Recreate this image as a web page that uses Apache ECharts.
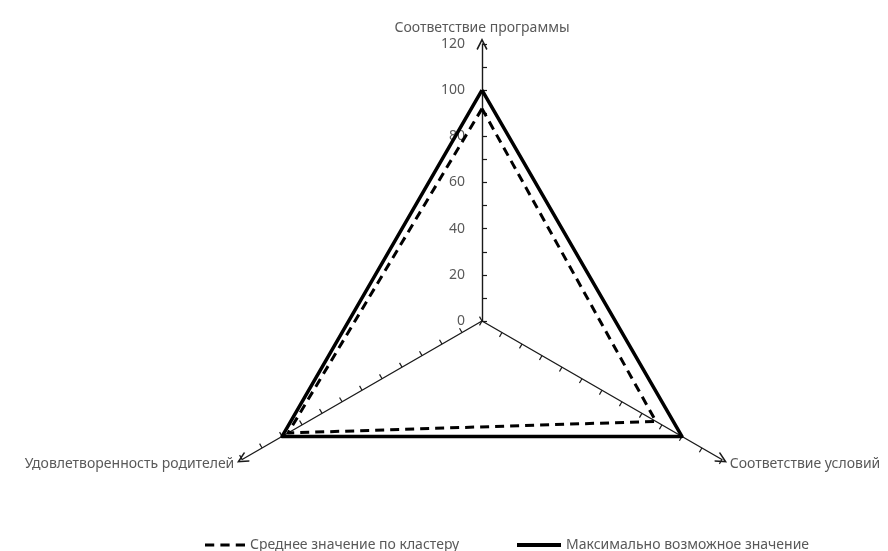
<!DOCTYPE html>
<html>
<head>
<meta charset="utf-8">
<script src="https://cdn.jsdelivr.net/npm/echarts@6/dist/echarts.min.js"></script>
<style>
html, body { margin: 0; padding: 0; background: #fff; }
#main { width: 888px; height: 551px; }
</style>
</head>
<body>
<div id="main"></div>
<script>
// данные
var indicators = ['Соответствие программы', 'Удовлетворенность родителей', 'Соответствие условий'];
var seriesNames = ['Среднее значение по кластеру', 'Максимально возможное значение'];
var avgValues = [92, 97, 87];
var maxValues = [100, 100, 100];
var scaleMax = 120;
var labelStep = 20;

var textColor = '#595959';
var fontName = 'Noto Sans';
var arrow = 'path://M0,10 L5,0 L10,10 L8.8,10.8 L5,3.2 L1.2,10.8 Z';

var chart = echarts.init(document.getElementById('main'));

var option = {
    backgroundColor: '#fff',
    animation: false,
    textStyle: { fontFamily: fontName },
    grid: { left: 482, width: 1, top: 321 - 277, height: 277 },
    xAxis: { type: 'value', show: false },
    yAxis: {
        type: 'value',
        min: 0,
        max: scaleMax,
        interval: labelStep,
        axisLine: { show: false },
        axisTick: { show: false },
        splitLine: { show: false },
        axisLabel: { color: textColor, fontSize: 14, margin: 17, fontFamily: fontName }
    },
    radar: {
        center: [482, 321],
        radius: 277,
        startAngle: 90,
        splitNumber: 12,
        shape: 'polygon',
        indicator: indicators.map(function (n) {
            return { name: n, min: 0, max: scaleMax };
        }),
        axisName: { color: textColor, fontSize: 14, fontFamily: fontName },
        nameGap: 9,
        axisLine: {
            show: true,
            symbol: ['none', arrow],
            symbolSize: [13, 12],
            lineStyle: { color: '#1a1a1a', width: 1.4 }
        },
        // отрицательная длина — засечки с другой стороны оси
        axisTick: { show: true, length: -5, lineStyle: { color: '#1a1a1a', width: 1.2 } },
        axisLabel: { show: false },
        splitLine: { show: false },
        splitArea: { show: false }
    },
    legend: [{
        left: 200,
        top: 533,
        itemWidth: 40,
        itemHeight: 4,
        itemGap: 0,
        textStyle: { color: textColor, fontSize: 14, fontFamily: fontName },
        data: [{ name: seriesNames[0], icon: 'path://M0,0h9v3h-9z M15,0h9v3h-9z M30,0h9v3h-9z' }]
    }, {
        left: 512,
        top: 533,
        itemWidth: 44,
        itemHeight: 4,
        textStyle: { color: textColor, fontSize: 14, fontFamily: fontName },
        data: [{ name: seriesNames[1], icon: 'path://M0,0h44v4h-44z' }]
    }],
    series: [{
        type: 'radar',
        name: seriesNames[0],
        symbol: 'none',
        itemStyle: { color: '#000' },
        lineStyle: { color: '#000', width: 3, type: [9, 6] },
        data: [{ value: avgValues, name: seriesNames[0] }]
    }, {
        type: 'radar',
        name: seriesNames[1],
        symbol: 'none',
        itemStyle: { color: '#000' },
        lineStyle: { color: '#000', width: 3.5, type: 'solid' },
        data: [{ value: maxValues, name: seriesNames[1] }]
    }]
};

chart.setOption(option);
</script>
</body>
</html>
